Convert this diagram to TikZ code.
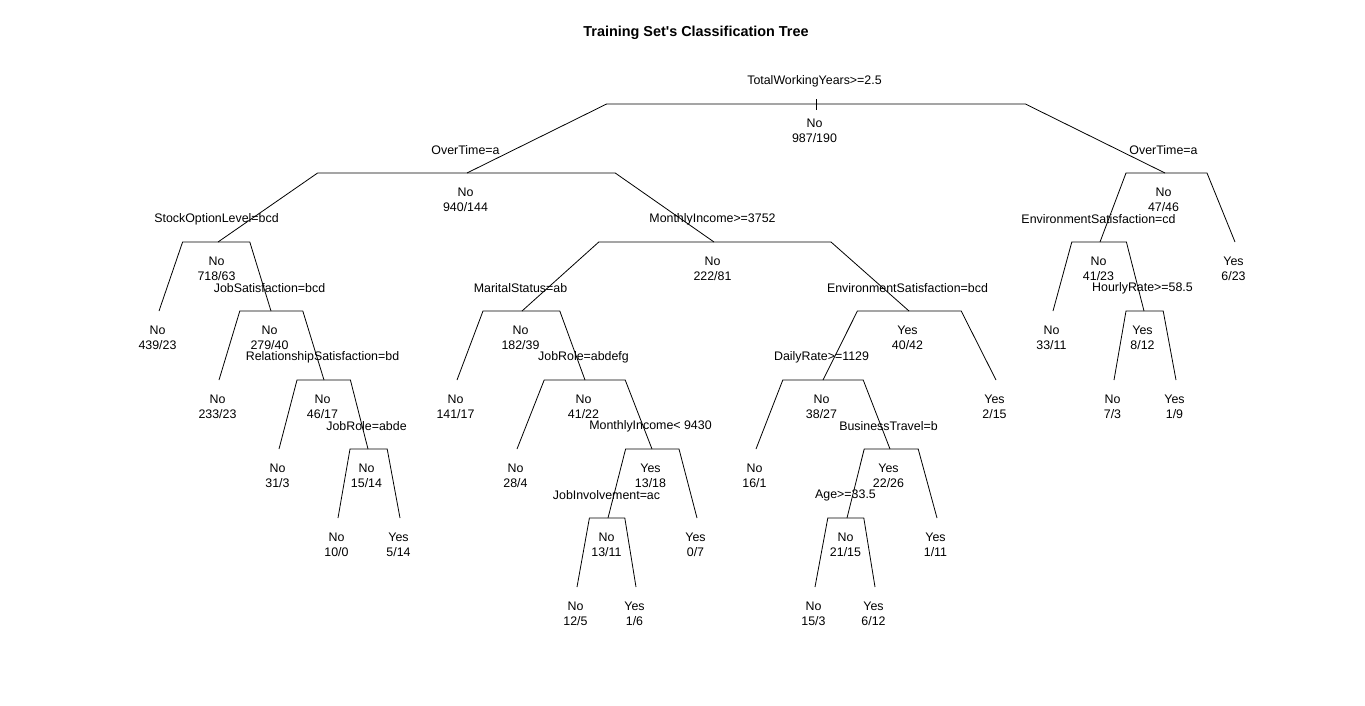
\documentclass[tikz,border=0pt]{standalone}
\usepackage{fontspec}
\setmainfont{Liberation Sans}
\usetikzlibrary{calc}
\tikzset{
  lbl/.style={inner sep=0pt, align=center, font=\fontsize{12.4}{15}\selectfont},
  br/.style={line width=0.8pt, black},
}
\newcommand\tn[5]{%
  \coordinate (#1) at (#2,{104+69*#3});
  \node[lbl] (#1-t) at ($(#1)+(-1.5,26.5)$) {#4\\#5};}
\newcommand\splitlbl[2]{\node[lbl] (#1-s) at ($(#1)+(-1.5,-23)$) {#2};}
\newcommand\tbranch[3]{%
  \path let \p1=(#1),\p2=(#2),\p3=(#3) in
    coordinate (#1-l) at ({\x1+0.6*(\x2-\x1)},\y1)
    coordinate (#1-r) at ({\x1+0.6*(\x3-\x1)},\y1);
  \draw[br] (#2) -- (#1-l) -- (#1-r) -- (#3);}
\begin{document}
\begin{tikzpicture}[x=1pt,y=-1pt]
\fill[white] (0,0) rectangle (1365,705);
\useasboundingbox (0,0) rectangle (1365,705);
\node[lbl, font=\fontsize{14.4}{16}\selectfont\bfseries] (title) at (696,32.5) {Training Set\textquotesingle s Classification Tree};
% nodes
\tn{root}{816}{0}{No}{987/190}
\tn{a}{467}{1}{No}{940/144}
\tn{b}{1165}{1}{No}{47/46}
\tn{aa}{218}{2}{No}{718/63}
\tn{ab}{714}{2}{No}{222/81}
\tn{ba}{1100}{2}{No}{41/23}
\tn{bb}{1235}{2}{Yes}{6/23}
\tn{aaa}{159}{3}{No}{439/23}
\tn{aab}{271}{3}{No}{279/40}
\tn{aba}{522}{3}{No}{182/39}
\tn{abb}{909}{3}{Yes}{40/42}
\tn{baa}{1053}{3}{No}{33/11}
\tn{bab}{1144}{3}{Yes}{8/12}
\tn{aaba}{219}{4}{No}{233/23}
\tn{aabb}{324}{4}{No}{46/17}
\tn{abaa}{457}{4}{No}{141/17}
\tn{abab}{585}{4}{No}{41/22}
\tn{abba}{823}{4}{No}{38/27}
\tn{abbb}{996}{4}{Yes}{2/15}
\tn{baba}{1114}{4}{No}{7/3}
\tn{babb}{1176}{4}{Yes}{1/9}
\tn{aabba}{279}{5}{No}{31/3}
\tn{aabbb}{368}{5}{No}{15/14}
\tn{ababa}{517}{5}{No}{28/4}
\tn{ababb}{652}{5}{Yes}{13/18}
\tn{abbaa}{756}{5}{No}{16/1}
\tn{abbab}{890}{5}{Yes}{22/26}
\tn{aabbba}{338}{6}{No}{10/0}
\tn{aabbbb}{400}{6}{Yes}{5/14}
\tn{ababba}{608}{6}{No}{13/11}
\tn{ababbb}{697}{6}{Yes}{0/7}
\tn{abbaba}{847}{6}{No}{21/15}
\tn{abbabb}{937}{6}{Yes}{1/11}
\tn{ababbaa}{577}{7}{No}{12/5}
\tn{ababbab}{636}{7}{Yes}{1/6}
\tn{abbabaa}{815}{7}{No}{15/3}
\tn{abbabab}{875}{7}{Yes}{6/12}
% split labels
\splitlbl{root}{TotalWorkingYears>=2.5}
\splitlbl{a}{OverTime=a}
\splitlbl{b}{OverTime=a}
\splitlbl{aa}{StockOptionLevel=bcd}
\splitlbl{ab}{MonthlyIncome>=3752}
\splitlbl{ba}{EnvironmentSatisfaction=cd}
\splitlbl{aab}{JobSatisfaction=bcd}
\splitlbl{aba}{MaritalStatus=ab}
\splitlbl{abb}{EnvironmentSatisfaction=bcd}
\splitlbl{bab}{HourlyRate>=58.5}
\splitlbl{aabb}{RelationshipSatisfaction=bd}
\splitlbl{abab}{JobRole=abdefg}
\splitlbl{abba}{DailyRate>=1129}
\splitlbl{aabbb}{JobRole=abde}
\splitlbl{ababb}{MonthlyIncome< 9430}
\splitlbl{abbab}{BusinessTravel=b}
\splitlbl{ababba}{JobInvolvement=ac}
\splitlbl{abbaba}{Age>=33.5}
% branches
\tbranch{root}{a}{b}
\tbranch{a}{aa}{ab}
\tbranch{b}{ba}{bb}
\tbranch{aa}{aaa}{aab}
\tbranch{ab}{aba}{abb}
\tbranch{ba}{baa}{bab}
\tbranch{aab}{aaba}{aabb}
\tbranch{aba}{abaa}{abab}
\tbranch{abb}{abba}{abbb}
\tbranch{bab}{baba}{babb}
\tbranch{aabb}{aabba}{aabbb}
\tbranch{abab}{ababa}{ababb}
\tbranch{abba}{abbaa}{abbab}
\tbranch{aabbb}{aabbba}{aabbbb}
\tbranch{ababb}{ababba}{ababbb}
\tbranch{abbab}{abbaba}{abbabb}
\tbranch{ababba}{ababbaa}{ababbab}
\tbranch{abbaba}{abbabaa}{abbabab}
% root tick
\coordinate (tickt) at ($(root)+(0,-5)$);
\coordinate (tickb) at ($(root)+(0,6)$);
\draw[br] (tickt) -- (tickb);
\end{tikzpicture}
\end{document}
